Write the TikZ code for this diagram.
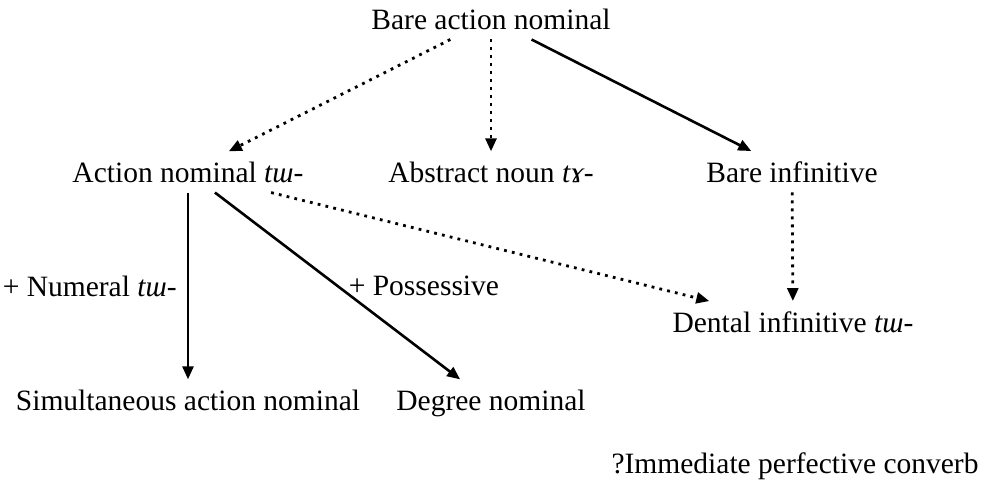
\documentclass[tikz,border=0pt]{standalone}
\usepackage{fontspec}
\setmainfont{Liberation Serif}
\usetikzlibrary{arrows.meta}
\begin{document}
\begin{tikzpicture}[x=1pt,y=-1pt,
  font=\fontsize{29.5}{34}\selectfont,
  every node/.style={inner sep=10pt},
  lbl/.style={anchor=base},
  solidarr/.style={line width=2.6pt,-{Triangle[length=13pt,width=11pt]}},
  dotarr/.style={line width=2.8pt, dash pattern=on 2.8pt off 5.2pt,-{Triangle[length=13pt,width=11pt]}}]
\useasboundingbox (0,0) rectangle (984,485);
\node[lbl] (ban) at (491,29) {Bare action nominal};
\node[lbl] (an) at (188,182) {Action nominal \textit{tɯ-}};
\node[lbl] (abs) at (491,182) {Abstract noun \textit{tɤ-}};
\node[lbl] (bi) at (792,182) {Bare infinitive};
\node[lbl] (den) at (793,332) {Dental infinitive \textit{tɯ-}};
\node[lbl] (sim) at (188,410) {Simultaneous action nominal};
\node[lbl] (deg) at (491,410) {Degree nominal};
\node[lbl] (imm) at (795,473) {?Immediate perfective converb};
\draw[dotarr] (ban) -- (an);
\draw[dotarr] (ban) -- (abs);
\draw[solidarr] (ban) -- (bi);
\draw[solidarr] (an) -- node[midway, left] (num) {+ Numeral \textit{tɯ-}} (sim);
\draw[solidarr] (an) -- node[midway, right] (pos) {+ Possessive} (deg);
\draw[dotarr] (an) -- (den);
\draw[dotarr] (bi) -- (den);
\end{tikzpicture}
\end{document}
